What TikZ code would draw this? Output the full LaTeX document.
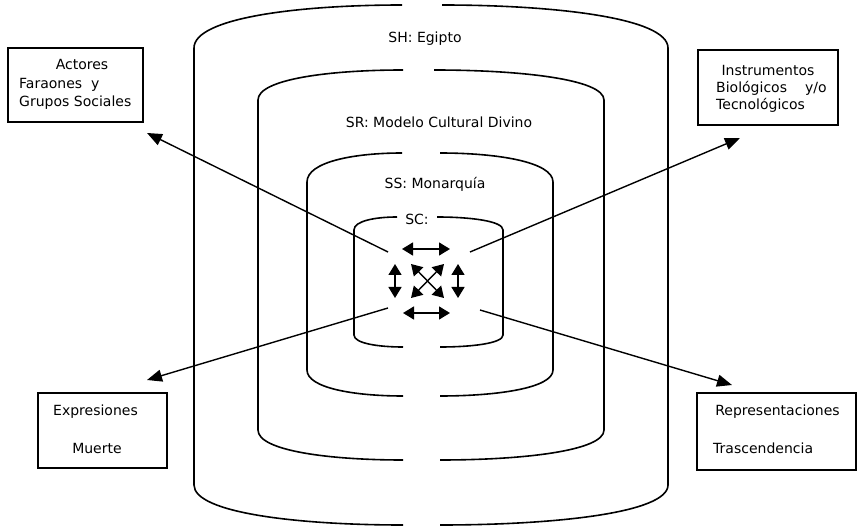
\documentclass[tikz,border=0pt]{standalone}
\usepackage{fontspec}
\setmainfont{DejaVu Sans}
\usetikzlibrary{arrows.meta}
\tikzset{
  wall/.style={line width=1.6pt},
  link/.style={line width=1.4pt,-{Triangle[length=15pt,width=12pt]}},
  twin/.style={line width=1.4pt,{Triangle[length=11pt,width=13pt]}-{Triangle[length=11pt,width=13pt]}},
  card/.style={draw,line width=1.3pt,inner sep=0pt},
  lbl/.style={inner sep=0pt,font=\fontsize{14}{16}\selectfont},
}

\begin{document}
\begin{tikzpicture}[x=1pt,y=-1pt]
  \useasboundingbox (0,0) rectangle (861,526);
  % nested systems: left/right/side top/mid top/side bottom/mid bottom/top gap
  \foreach \l/\r/\ys/\yt/\bs/\bt/\ga/\gb in {194/668/48/5/485/525/402/442,
           258/604/100/70/430/460/403/434, 307/553/182/153/370/396/402/440,
           354/503/230/217/335/347/397/437}
  {
    \draw[wall] (\ga,\yt) .. controls ({(\l+\ga)/2},\yt) and (\l,{\yt+0.3*(\ys-\yt)}) .. (\l,\ys)
       -- (\l,\bs) .. controls (\l,{\bs+0.7*(\bt-\bs)}) and ({(\l+403)/2},\bt) .. (403,\bt);
    \draw[wall] (\gb,\yt) .. controls ({(\r+\gb)/2},\yt) and (\r,{\yt+0.3*(\ys-\yt)}) .. (\r,\ys)
       -- (\r,\bs) .. controls (\r,{\bs+0.7*(\bt-\bs)}) and ({(\r+440)/2},\bt) .. (440,\bt);
  }
  \node[lbl] (sh) at (425,39) {SH: Egipto};
  \node[lbl] (sr) at (439,122) {SR: Modelo Cultural Divino};
  \node[lbl] (ss) at (435,184) {SS: Monarquía};
  \node[lbl] (sc) at (417,219) {SC:};
  %
  \node[card,minimum width=135pt,minimum height=74pt] (actores) at (75.5,85) {};
  \node[lbl] (actT) at (82,64) {Actores};
  \node[lbl,anchor=west] (actA) at (19,85) {Faraones\ \ y};
  \node[lbl,anchor=west] (actB) at (19,103) {Grupos Sociales};
  \node[card,minimum width=140pt,minimum height=75pt] (instr) at (768,87.5) {};
  \node[lbl] (insT) at (768,70) {Instrumentos};
  \node[lbl,anchor=west] (insA) at (716,88) {Biológicos\hspace{18pt}y/o};
  \node[lbl,anchor=west] (insB) at (716,105) {Tecnológicos};
  \node[card,minimum width=129pt,minimum height=75pt] (expr) at (102.5,430.5) {};
  \node[lbl] (expT) at (95.5,412) {Expresiones};
  \node[lbl] (expA) at (97,448) {Muerte};
  \node[card,minimum width=159pt,minimum height=77pt] (repr) at (776.5,431.5) {};
  \node[lbl] (repT) at (777.5,412) {Representaciones};
  \node[lbl,anchor=west] (repA) at (713,448) {Trascendencia};
  %
  \foreach \n/\x/\y in {aA/388/252, eA/147/133, aI/470/252, eI/740/138,
           aE/388/308, eE/147/380, aR/480/310, eR/732/385}
    {\coordinate (\n) at (\x,\y);}
  \draw[link] (aA) -- (eA);
  \draw[link] (aI) -- (eI);
  \draw[link] (aE) -- (eE);
  \draw[link] (aR) -- (eR);
  % links inside SC
  \foreach \n/\x/\y in {h1/402/249, h2/450/249, h3/403/313, h4/450/313,
           v1/395/264, v2/395/298, v3/458/264, v4/458/298,
           x1/411/264, x2/444/298, x3/444/264, x4/411/298}
    {\coordinate (\n) at (\x,\y);}
  \draw[twin] (h1) -- (h2);
  \draw[twin] (h3) -- (h4);
  \draw[twin] (v1) -- (v2);
  \draw[twin] (v3) -- (v4);
  \draw[twin] (x1) -- (x2);
  \draw[twin] (x3) -- (x4);
\end{tikzpicture}
\end{document}
